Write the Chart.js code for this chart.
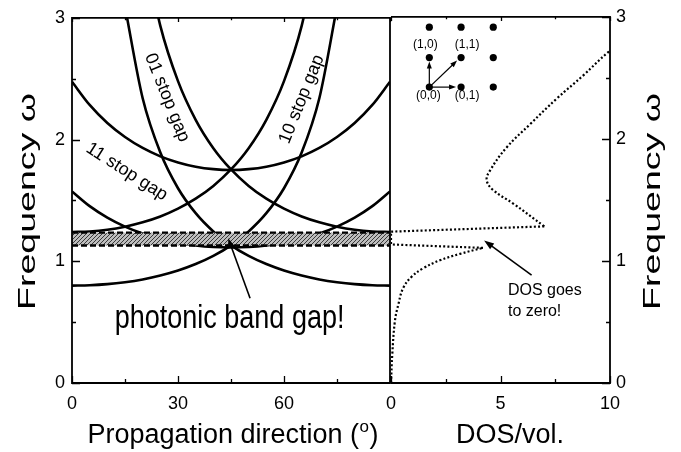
<!DOCTYPE html>
<html>
<head>
<meta charset="utf-8">
<script src="https://cdn.jsdelivr.net/npm/chart.js@4.4.1/dist/chart.umd.min.js"></script>
<style>
  html, body { margin: 0; padding: 0; background: #fff; }
  #wrap { position: relative; width: 681px; height: 452px; }
  #wrap canvas { position: absolute; left: 0; top: 0; }
</style>
</head>
<body>
<div id="wrap">
  <canvas id="bands" width="681" height="452" style="width:681px;height:452px"></canvas>
  <canvas id="dos" width="681" height="452" style="width:681px;height:452px"></canvas>
</div>
<script>
/* Propagation angle (degrees) at which each stop-gap edge is sampled */
var ANGLES = [0, 5, 10, 15, 20, 25, 30, 35, 40, 45, 50, 55, 60, 65, 70, 75, 80, 85, 90];

/* Stop-gap edges, frequency vs angle (null = off the top of the plot) */
var GAP10_LOW  = [0.80, 0.803, 0.812, 0.828, 0.851, 0.883, 0.924, 0.977, 1.044, 1.131, 1.245, 1.395, 1.600, 1.893, 2.339, 3.091, null, null, null];
var GAP10_HIGH = [1.24, 1.245, 1.259, 1.284, 1.320, 1.368, 1.432, 1.514, 1.619, 1.754, 1.929, 2.162, 2.480, 2.934, 3.626, null, null, null, null];
var GAP01_LOW  = [null, null, null, 3.091, 2.339, 1.893, 1.600, 1.395, 1.245, 1.131, 1.044, 0.977, 0.924, 0.883, 0.851, 0.828, 0.812, 0.803, 0.80];
var GAP01_HIGH = [null, null, null, null, 3.626, 2.934, 2.480, 2.162, 1.929, 1.754, 1.619, 1.514, 1.432, 1.368, 1.320, 1.284, 1.259, 1.245, 1.24];
var GAP11_LOW  = [1.574, 1.453, 1.359, 1.285, 1.228, 1.184, 1.152, 1.130, 1.117, 1.113, 1.117, 1.130, 1.152, 1.184, 1.228, 1.285, 1.359, 1.453, 1.574];
var GAP11_HIGH = [2.475, 2.284, 2.136, 2.021, 1.931, 1.862, 1.812, 1.777, 1.757, 1.750, 1.757, 1.777, 1.812, 1.862, 1.931, 2.021, 2.136, 2.284, 2.475];

/* Complete photonic band gap */
var BAND_GAP = [1.13, 1.235];

/* Density of states: DOS values and the frequencies they belong to */
var DOS_LOW_VAL   = [0, 0.06, 0.18, 0.33, 0.56, 0.94, 1.47, 2.23, 3.15, 4.2];
var DOS_LOW_FREQ  = [0, 0.24, 0.51, 0.64, 0.78, 0.87, 0.94, 1.005, 1.058, 1.107];
var DOS_EDGE_VAL  = [4.2, 0, 0, 7.0];
var DOS_EDGE_FREQ = [1.107, 1.135, 1.24, 1.283];
var DOS_HIGH_VAL  = [7.0, 5.58, 4.67, 4.37, 4.52, 5.28, 6.35, 7.57, 8.78, 9.92, 10.4];
var DOS_HIGH_FREQ = [1.283, 1.47, 1.58, 1.66, 1.74, 1.93, 2.12, 2.33, 2.52, 2.71, 2.76];

/* Square reciprocal lattice sketch (drawn in DOS / frequency units) */
var LATTICE_COLS = [1.75, 3.2, 4.67];
var LATTICE_ROWS = [2.424, 2.666, 2.915];
var LATTICE_LABELS = ['(0,0)', '(0,1)', '(1,0)', '(1,1)'];

var FONT = "'Liberation Sans', Arial, Helvetica, sans-serif";

function toPoints(xs, ys) {
  var out = [];
  for (var i = 0; i < xs.length; i++) out.push({ x: xs[i], y: ys[i] });
  return out;
}

function curve(values) {
  return {
    data: toPoints(ANGLES, values),
    borderColor: '#000',
    borderWidth: 2.6,
    pointRadius: 0,
    cubicInterpolationMode: 'monotone',
    fill: false
  };
}

function dotted(xs, ys, tension) {
  return {
    data: toPoints(xs, ys),
    borderColor: '#000',
    borderWidth: 2.2,
    borderDash: [2, 2.2],
    pointRadius: 0,
    tension: tension,
    fill: false
  };
}

function arrow(ctx, x1, y1, x2, y2, head, width) {
  var a = Math.atan2(y2 - y1, x2 - x1);
  var c = Math.cos(a), s = Math.sin(a);
  ctx.beginPath();
  ctx.moveTo(x1, y1);
  ctx.lineTo(x2 - head * 0.7 * c, y2 - head * 0.7 * s);
  ctx.stroke();
  ctx.beginPath();
  ctx.moveTo(x2, y2);
  ctx.lineTo(x2 - head * c + width / 2 * s, y2 - head * s - width / 2 * c);
  ctx.lineTo(x2 - head * c - width / 2 * s, y2 - head * s + width / 2 * c);
  ctx.closePath();
  ctx.fill();
}

/* box, inward ticks on every side that has an axis */
function drawFrame(chart, ySide, skipLeft) {
  var ctx = chart.ctx, a = chart.chartArea;
  var xs = chart.scales.x, ys = chart.scales.y;
  var xMaj = xs.ticks.map(function (t) { return t.value; });
  var yMaj = ys.ticks.map(function (t) { return t.value; });
  var xMin = [], yMin = [];
  for (var i = 1; i < xMaj.length; i++) xMin.push((xMaj[i - 1] + xMaj[i]) / 2);
  for (var j = 1; j < yMaj.length; j++) yMin.push((yMaj[j - 1] + yMaj[j]) / 2);

  ctx.save();
  ctx.strokeStyle = '#000';
  ctx.lineWidth = 1.8;
  ctx.beginPath();
  if (skipLeft) {
    ctx.moveTo(a.left, a.top); ctx.lineTo(a.right, a.top);
    ctx.lineTo(a.right, a.bottom); ctx.lineTo(a.left, a.bottom);
  } else {
    ctx.rect(a.left, a.top, a.right - a.left, a.bottom - a.top);
  }
  ctx.stroke();

  ctx.lineWidth = 1.3;
  ctx.beginPath();
  function xt(v, len) {
    var px = Math.round(xs.getPixelForValue(v)) + 0.5;
    ctx.moveTo(px, a.bottom); ctx.lineTo(px, a.bottom - len);
    ctx.moveTo(px, a.top); ctx.lineTo(px, a.top + len * 0.6);
  }
  function yt(v, len) {
    var py = Math.round(ys.getPixelForValue(v)) + 0.5;
    if (ySide === 'left') { ctx.moveTo(a.left, py); ctx.lineTo(a.left + len, py); }
    else { ctx.moveTo(a.right, py); ctx.lineTo(a.right - len, py); }
  }
  xMaj.forEach(function (v) { xt(v, 7); });
  xMin.forEach(function (v) { xt(v, 4); });
  yMaj.forEach(function (v) { yt(v, 8); });
  yMin.forEach(function (v) { yt(v, 4); });
  ctx.stroke();
  ctx.restore();
}

function verticalTitle(ctx, x, y, length) {
  ctx.save();
  ctx.font = '24px ' + FONT;
  ctx.fillStyle = '#000';
  ctx.textAlign = 'left';
  ctx.textBaseline = 'alphabetic';
  var text = 'Frequency \u03c9';
  var w = ctx.measureText(text).width;
  ctx.translate(x, y);
  ctx.rotate(-Math.PI / 2);
  ctx.scale(length / w, 1);
  ctx.fillText(text, 0, 0);
  ctx.restore();
}

function hatch(ctx) {
  var c = document.createElement('canvas');
  c.width = 4; c.height = 4;
  var g = c.getContext('2d');
  g.fillStyle = '#bdbdbd';
  g.fillRect(0, 0, 4, 4);
  g.strokeStyle = '#2a2a2a';
  g.lineWidth = 0.9;
  g.beginPath();
  g.moveTo(0, 4); g.lineTo(4, 0);
  g.moveTo(-1, 1); g.lineTo(1, -1);
  g.moveTo(3, 5); g.lineTo(5, 3);
  g.stroke();
  return ctx.createPattern(c, 'repeat');
}

var bandDecor = {
  id: 'bandDecor',
  afterDatasetsDraw: function (chart) {
    var ctx = chart.ctx, a = chart.chartArea;
    var xs = chart.scales.x, ys = chart.scales.y;
    var yTop = ys.getPixelForValue(BAND_GAP[1]);
    var yBot = ys.getPixelForValue(BAND_GAP[0]);

    ctx.save();
    /* hatched complete gap */
    ctx.fillStyle = hatch(ctx);
    ctx.fillRect(a.left, yTop, a.right - a.left, yBot - yTop);
    ctx.strokeStyle = '#000';
    ctx.lineWidth = 2.4;
    ctx.setLineDash([6, 3]);
    ctx.beginPath();
    ctx.moveTo(a.left, yTop); ctx.lineTo(a.right, yTop);
    ctx.moveTo(a.left, yBot); ctx.lineTo(a.right, yBot);
    ctx.stroke();
    ctx.setLineDash([]);

    /* stop gap labels along the band edges */
    ctx.fillStyle = '#000';
    ctx.font = '18px ' + FONT;
    ctx.textAlign = 'center';
    ctx.textBaseline = 'middle';
    [['01 stop gap', 26.9, 2.344, 68],
     ['10 stop gap', 65.0, 2.331, -68],
     ['11 stop gap', 15.5, 1.735, 32.5]].forEach(function (l) {
      ctx.save();
      ctx.translate(xs.getPixelForValue(l[1]), ys.getPixelForValue(l[2]));
      ctx.rotate(l[3] * Math.PI / 180);
      ctx.fillText(l[0], 0, 0);
      ctx.restore();
    });

    /* arrow to the gap */
    ctx.lineWidth = 1.6;
    ctx.strokeStyle = '#000';
    arrow(ctx, xs.getPixelForValue(50.4), ys.getPixelForValue(0.696),
      xs.getPixelForValue(44.2), ys.getPixelForValue(1.19), 10, 7);

    ctx.save();
    ctx.font = '27px ' + FONT;
    ctx.textBaseline = 'alphabetic';
    ctx.translate(xs.getPixelForValue(44.6), ys.getPixelForValue(0.455));
    ctx.scale(1, 1.25);
    ctx.fillText('photonic band gap!', 0, 0);
    ctx.restore();
    ctx.restore();
  },
  afterDraw: function (chart) {
    var ctx = chart.ctx;
    drawFrame(chart, 'left', false);

    ctx.save();
    ctx.fillStyle = '#000';
    ctx.textBaseline = 'alphabetic';
    ctx.textAlign = 'left';
    ctx.font = '27px ' + FONT;
    var main = 'Propagation direction (';
    var wMain = ctx.measureText(main).width;
    var wClose = ctx.measureText(')').width;
    ctx.font = '17px ' + FONT;
    var wSup = ctx.measureText('o').width;
    var x0 = 232.5 - (wMain + wSup + wClose) / 2;
    ctx.font = '27px ' + FONT;
    ctx.fillText(main, x0, 442.7);
    ctx.fillText(')', x0 + wMain + wSup + 1, 442.7);
    ctx.font = '17px ' + FONT;
    ctx.fillText('o', x0 + wMain + 0.5, 432);
    ctx.restore();

    verticalTitle(ctx, 35, 310, 217);
  }
};

var dosDecor = {
  id: 'dosDecor',
  afterDatasetsDraw: function (chart) {
    var ctx = chart.ctx;
    var xs = chart.scales.x, ys = chart.scales.y;
    function px(v) { return xs.getPixelForValue(v); }
    function py(v) { return ys.getPixelForValue(v); }

    ctx.save();
    ctx.fillStyle = '#000';
    ctx.strokeStyle = '#000';

    /* reciprocal lattice vectors from (0,0) */
    var ox = px(LATTICE_COLS[0]), oy = py(LATTICE_ROWS[0]);
    ctx.lineWidth = 1.2;
    arrow(ctx, ox, oy, ox, py(LATTICE_ROWS[1]) + 4, 7, 5);
    arrow(ctx, ox, oy, px(LATTICE_COLS[1]) - 5, oy, 7, 5);
    arrow(ctx, ox, oy, px(LATTICE_COLS[1]) - 4, py(LATTICE_ROWS[1]) + 3, 7, 5);

    ctx.font = '12px ' + FONT;
    ctx.textAlign = 'center';
    ctx.textBaseline = 'middle';
    var spots = [[LATTICE_COLS[0], LATTICE_ROWS[0], -1, 9],
                 [LATTICE_COLS[1], LATTICE_ROWS[0], 6, 9],
                 [LATTICE_COLS[0], LATTICE_ROWS[1], -4, -13],
                 [LATTICE_COLS[1], LATTICE_ROWS[1], 6, -13]];
    LATTICE_LABELS.forEach(function (t, i) {
      var s = spots[i];
      ctx.fillText(t, px(s[0]) + s[2], py(s[1]) + s[3]);
    });

    /* note on the gap */
    ctx.font = '16px ' + FONT;
    ctx.textAlign = 'left';
    ctx.textBaseline = 'alphabetic';
    ctx.fillText('DOS goes', px(5.34), py(0.718));
    ctx.fillText('to zero!', px(5.34), py(0.549));
    ctx.lineWidth = 1.6;
    arrow(ctx, px(6.42), py(0.884), px(4.25), py(1.168), 10, 7);
    ctx.restore();
  },
  afterDraw: function (chart) {
    var ctx = chart.ctx;
    drawFrame(chart, 'right', true);
    ctx.save();
    ctx.fillStyle = '#000';
    ctx.font = '27px ' + FONT;
    ctx.textAlign = 'center';
    ctx.textBaseline = 'alphabetic';
    ctx.fillText('DOS/vol.', 510, 442.7);
    ctx.restore();
    verticalTitle(ctx, 660, 310, 217);
  }
};

function axisTicks(step, hideAt) {
  return {
    stepSize: step,
    color: '#000',
    font: { family: FONT, size: 18 },
    maxRotation: 0,
    autoSkip: false,
    callback: function (v) { return v === hideAt ? '' : v; }
  };
}

/* no grid lines; tick marks are drawn inward by the frame plugins */
var NO_GRID = { display: false, drawTicks: false };

new Chart(document.getElementById('bands'), {
  type: 'line',
  data: {
    datasets: [GAP10_LOW, GAP10_HIGH, GAP01_LOW, GAP01_HIGH, GAP11_LOW, GAP11_HIGH].map(curve)
  },
  options: {
    responsive: false,
    animation: false,
    events: [],
    layout: { padding: { left: 0, right: 291, top: 10, bottom: 0 } },
    plugins: { legend: { display: false }, tooltip: { enabled: false } },
    scales: {
      x: {
        type: 'linear', min: 0, max: 90,
        ticks: Object.assign(axisTicks(30, 90), { padding: 10 }),
        grid: NO_GRID, border: { display: false },
        afterFit: function (s) { s.height = 69; }
      },
      y: {
        type: 'linear', min: 0, max: 3,
        ticks: Object.assign(axisTicks(1, null), { padding: 7 }),
        grid: NO_GRID, border: { display: false },
        afterFit: function (s) { s.width = 72; }
      }
    }
  },
  plugins: [bandDecor]
});

var latticePts = [];
LATTICE_ROWS.forEach(function (w) {
  LATTICE_COLS.forEach(function (d) { latticePts.push({ x: d, y: w }); });
});

new Chart(document.getElementById('dos'), {
  type: 'line',
  data: {
    datasets: [
      dotted(DOS_LOW_VAL, DOS_LOW_FREQ, 0.4),
      dotted(DOS_EDGE_VAL, DOS_EDGE_FREQ, 0),
      dotted(DOS_HIGH_VAL, DOS_HIGH_FREQ, 0.4),
      {
        data: latticePts,
        showLine: false,
        pointRadius: 3.6,
        pointBackgroundColor: '#000',
        pointBorderWidth: 0
      }
    ]
  },
  options: {
    responsive: false,
    animation: false,
    events: [],
    layout: { padding: { left: 391, right: 0, top: 10, bottom: 0 } },
    plugins: { legend: { display: false }, tooltip: { enabled: false } },
    scales: {
      x: {
        type: 'linear', min: 0, max: 10,
        ticks: Object.assign(axisTicks(5, null), { padding: 10 }),
        grid: NO_GRID, border: { display: false },
        afterFit: function (s) { s.height = 69; }
      },
      y: {
        type: 'linear', min: 0, max: 3, position: 'right',
        ticks: Object.assign(axisTicks(1, null), { padding: 6 }),
        grid: NO_GRID, border: { display: false },
        afterFit: function (s) { s.width = 71; }
      }
    }
  },
  plugins: [dosDecor]
});
</script>
</body>
</html>
